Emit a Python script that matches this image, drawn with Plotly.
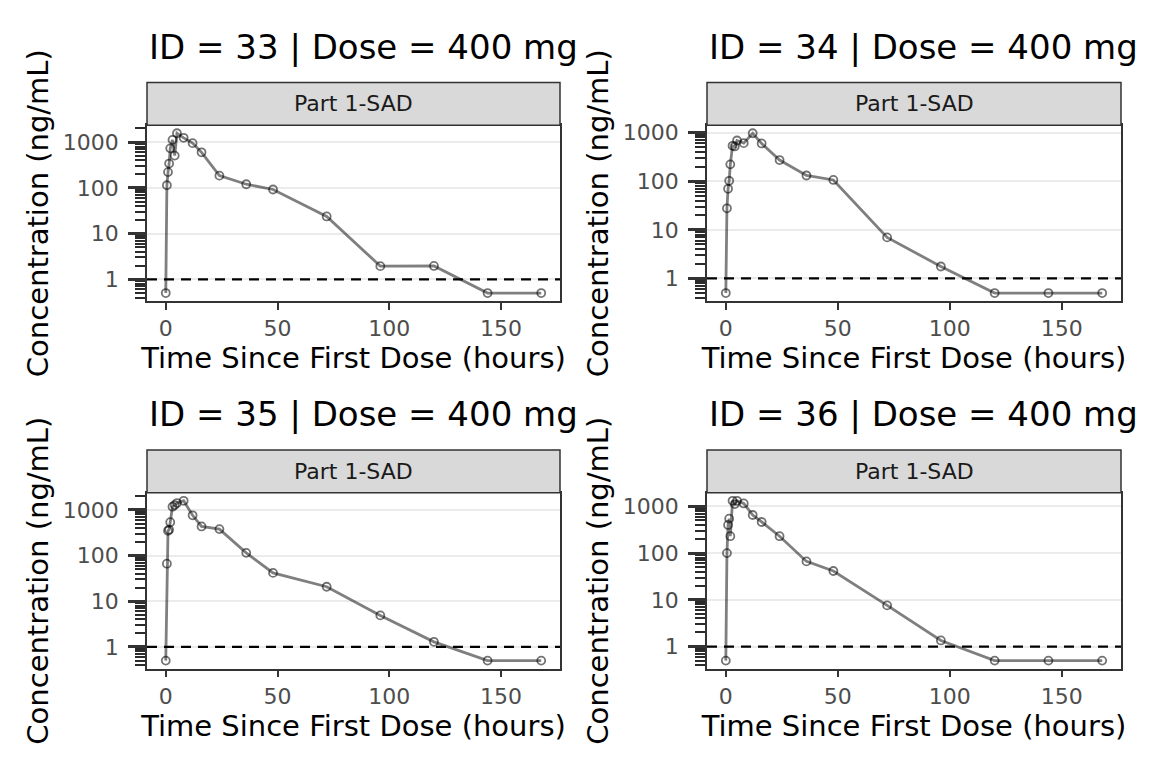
import math
import plotly.graph_objects as go

# ---------------- data ----------------
subject_ids = [33, 34, 35, 36]
dose_mg = 400
strip_label = "Part 1-SAD"
lloq = 1

time_h = [0, 0.5, 1, 1.5, 2, 3, 4, 5, 8, 12, 16, 24, 36, 48, 72, 96, 120, 144, 168]

conc_33 = [0.5, 114, 221, 340, 730, 1120, 507, 1563, 1240, 950, 598, 185, 120, 92, 23.7, 1.94, 1.96, 0.5, 0.5]
conc_34 = [0.5, 27.7, 69.8, 102, 222, 535, 518, 687, 606, 969, 597, 272, 131, 106, 6.98, 1.76, 0.5, 0.5, 0.5]
conc_35 = [0.5, 66.5, 351, 370, 541, 1180, 1283, 1418, 1592, 766, 436, 381, 115, 41.8, 20.8, 4.9, 1.29, 0.5, 0.5]
conc_36 = [0.5, 100, 401, 547, 230, 1319, 1121, 1319, 1158, 654, 464, 230, 66.5, 41.4, 7.6, 1.35, 0.5, 0.5, 0.5]

x_tick_vals = [0, 50, 100, 150]
y_tick_vals = [1, 10, 100, 1000]
x_title = "Time Since First Dose (hours)"
y_title = "Concentration (ng/mL)"

# ---------------- layout helpers ----------------
OFF = 8                    # page body margin
W, H = 1152 - 2 * OFF, 768 - 2 * OFF
FONT = "DejaVu Sans"

col_px = [(147, 560), (707, 1121)]
row_px = [(121, 298), (491, 668)]   # plot area top/bottom in screen pixels
strip_h = 43
title_cy = [42, 412]

def px_x(p):
    return (p - OFF) / W

def px_y(p):
    return 1 - (p - OFF) / H

series = [conc_33, conc_34, conc_35, conc_36]

fig = go.Figure()
shapes = []
annotations = []
layout_axes = {}

xmin, xmax = min(time_h), max(time_h)
xpad = 0.05 * (xmax - xmin)
xrange = [xmin - xpad, xmax + xpad]

for i, (sid, conc) in enumerate(zip(subject_ids, series)):
    r, c = divmod(i, 2)
    n = i + 1
    xa = "x" if n == 1 else f"x{n}"
    ya = "y" if n == 1 else f"y{n}"
    xkey = "xaxis" if n == 1 else f"xaxis{n}"
    ykey = "yaxis" if n == 1 else f"yaxis{n}"

    lo = math.log10(min(conc))
    hi = math.log10(max(conc))
    pad = 0.05 * (hi - lo)
    yrange = [lo - pad, hi + pad]

    # LLOQ dashed line
    fig.add_trace(go.Scatter(
        x=xrange, y=[lloq, lloq], xaxis=xa, yaxis=ya, mode="lines",
        line=dict(color="black", width=2.2, dash="10px,7px"),
        showlegend=False, hoverinfo="skip"))
    # concentration-time profile
    fig.add_trace(go.Scatter(
        x=time_h, y=conc, xaxis=xa, yaxis=ya, mode="lines+markers",
        line=dict(color="rgba(0,0,0,0.5)", width=2.8),
        marker=dict(symbol="circle-open", size=8, color="rgba(0,0,0,0.55)",
                    line=dict(width=1.8)),
        showlegend=False))

    x0p, x1p = col_px[c]
    t_px, b_px = row_px[r]

    layout_axes[xkey] = dict(
        domain=[px_x(x0p), px_x(x1p)], anchor=ya, range=xrange,
        tickmode="array", tickvals=x_tick_vals,
        ticks="outside", ticklen=7, tickwidth=2, tickcolor="#333333",
        showgrid=False, zeroline=False,
        showline=True, mirror=True, linecolor="#333333", linewidth=1.5,
        tickfont=dict(family=FONT, size=22, color="#4D4D4D"),
        title=dict(text=x_title, font=dict(family=FONT, size=29, color="black"),
                   standoff=4),
    )
    layout_axes[ykey] = dict(
        type="log", domain=[px_y(b_px), px_y(t_px)], anchor=xa, range=yrange,
        tickmode="array", tickvals=y_tick_vals,
        ticktext=[str(v) for v in y_tick_vals],
        ticks="outside", ticklen=17, tickwidth=2.5, tickcolor="#333333",
        ticklabelstandoff=5,
        minor=dict(ticks="outside", ticklen=10, tickwidth=2,
                   tickcolor="#2B2B2B", dtick="D1", showgrid=False),
        showgrid=True, gridcolor="#EBEBEB", gridwidth=1.5, zeroline=False,
        showline=True, mirror=True, linecolor="#333333", linewidth=1.5,
        tickfont=dict(family=FONT, size=22, color="#4D4D4D"),
        title=dict(text=y_title, font=dict(family=FONT, size=29, color="black"),
                   standoff=6),
    )

    # strip
    shapes.append(dict(type="rect", xref="paper", yref="paper",
                       x0=px_x(x0p), x1=px_x(x1p),
                       y0=px_y(t_px), y1=px_y(t_px - strip_h),
                       fillcolor="#D9D9D9", line=dict(color="#333333", width=1.5),
                       layer="above"))
    annotations.append(dict(text=strip_label, xref="paper", yref="paper",
                            x=px_x((x0p + x1p) / 2), y=px_y(t_px - strip_h / 2),
                            xanchor="center", yanchor="middle", showarrow=False,
                            font=dict(family=FONT, size=22, color="#1A1A1A")))
    # panel title
    annotations.append(dict(text=f"ID = {sid} | Dose = {dose_mg} mg",
                            xref="paper", yref="paper",
                            x=px_x(x0p), y=px_y(title_cy[r]),
                            xanchor="left", yanchor="middle", showarrow=False,
                            font=dict(family=FONT, size=34, color="black")))

fig.update_layout(
    width=W, height=H,
    margin=dict(l=0, r=0, t=0, b=0),
    paper_bgcolor="white", plot_bgcolor="white",
    font=dict(family=FONT),
    shapes=shapes, annotations=annotations,
    showlegend=False,
    **layout_axes,
)

fig.write_html("out.html")
